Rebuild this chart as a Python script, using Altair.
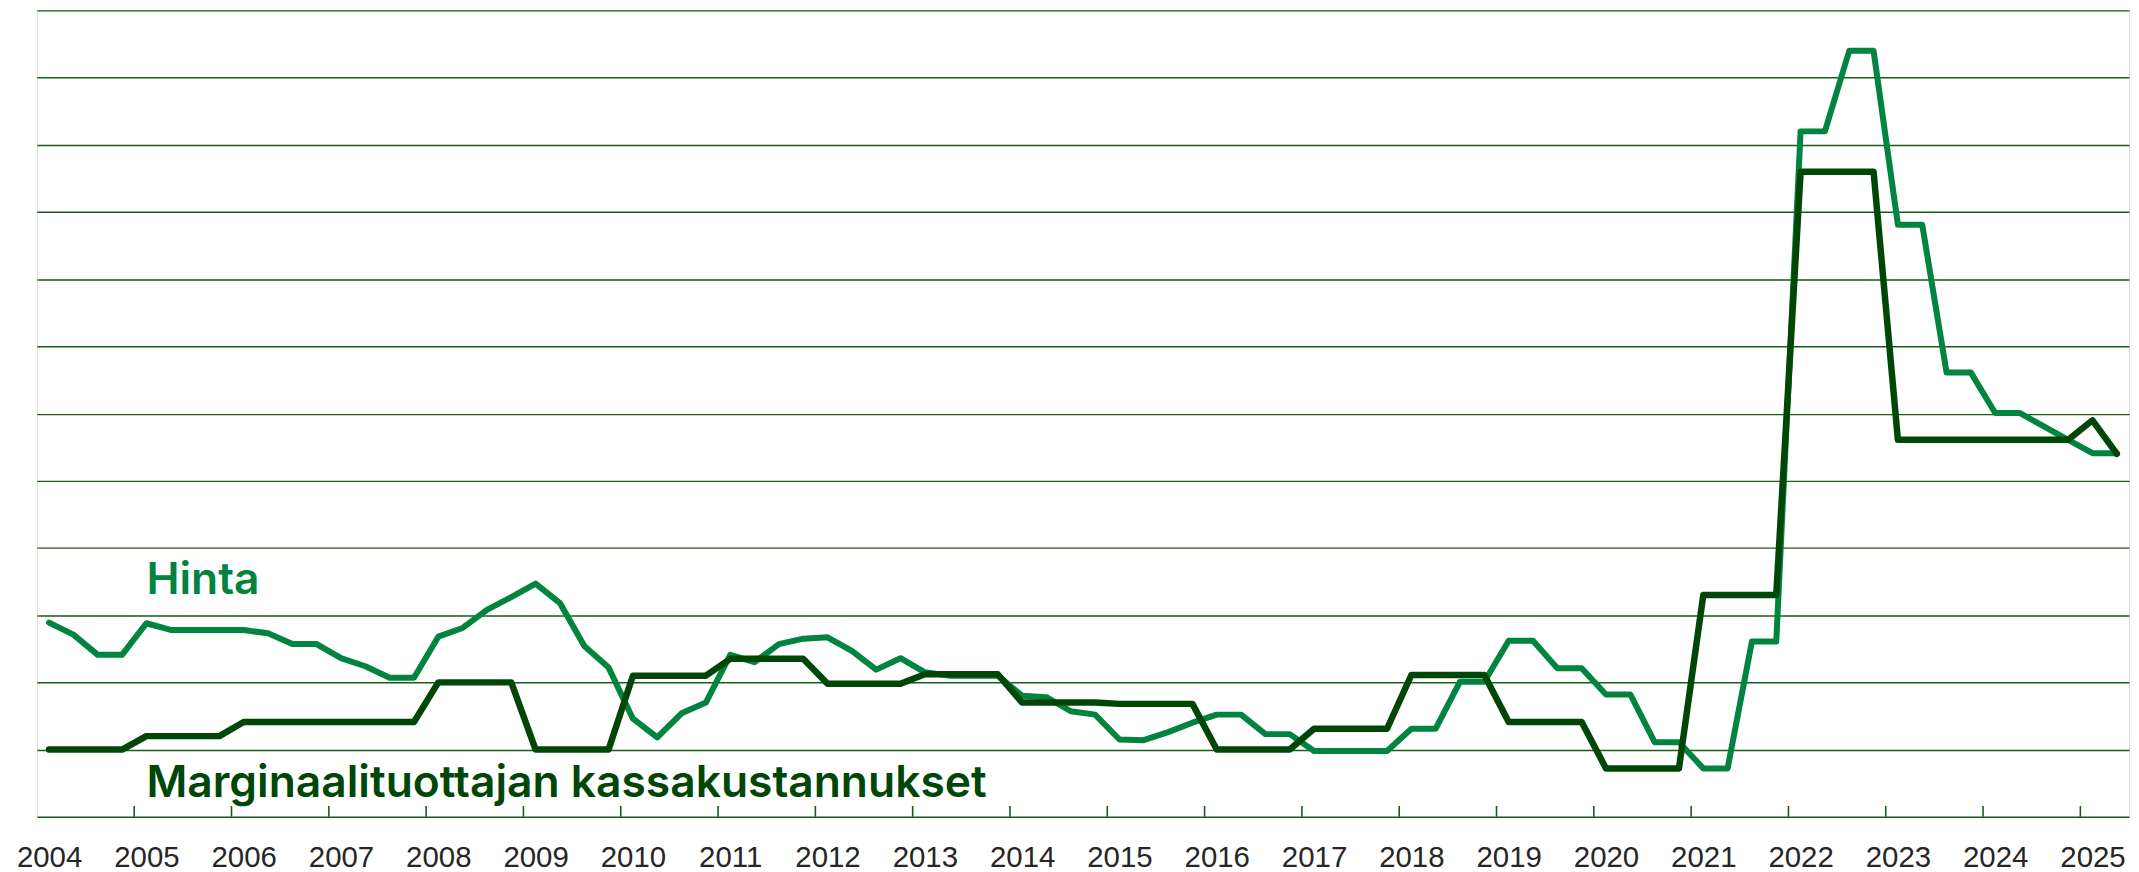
import altair as alt
import pandas as pd

# ---- data (quarterly, 2004Q1 .. 2025Q2; units = gridline steps) ----
years = list(range(2004, 2026))

hinta = [
    2.89, 2.71, 2.41, 2.41,   # 2004
    2.88, 2.78, 2.78, 2.78,   # 2005
    2.78, 2.73, 2.57, 2.57,   # 2006
    2.36, 2.24, 2.07, 2.07,   # 2007
    2.68, 2.81, 3.08, 3.27,   # 2008
    3.47, 3.18, 2.54, 2.22,   # 2009
    1.46, 1.18, 1.54, 1.70,   # 2010
    2.41, 2.30, 2.57, 2.65,   # 2011
    2.67, 2.47, 2.19, 2.36,   # 2012
    2.15, 2.10, 2.10, 2.10,   # 2013
    1.80, 1.78, 1.57, 1.52,   # 2014
    1.15, 1.14, 1.26, 1.40,   # 2015
    1.52, 1.52, 1.23, 1.23,   # 2016
    0.98, 0.98, 0.98, 0.98,   # 2017
    1.31, 1.31, 2.01, 2.01,   # 2018
    2.62, 2.62, 2.21, 2.21,   # 2019
    1.82, 1.82, 1.11, 1.11,   # 2020
    0.72, 0.72, 2.61, 2.61,   # 2021
    10.2, 10.2, 11.4, 11.4,   # 2022
    8.81, 8.81, 6.61, 6.61,   # 2023
    6.01, 6.01, 5.81, 5.61,   # 2024
    5.41, 5.41,               # 2025
]

kustannukset = [
    1.00, 1.00, 1.00, 1.00,
    1.20, 1.20, 1.20, 1.20,
    1.41, 1.41, 1.41, 1.41,
    1.41, 1.41, 1.41, 1.41,
    2.00, 2.00, 2.00, 2.00,
    1.00, 1.00, 1.00, 1.00,
    2.10, 2.10, 2.10, 2.10,
    2.35, 2.35, 2.35, 2.35,
    1.98, 1.98, 1.98, 1.98,
    2.12, 2.12, 2.12, 2.12,
    1.70, 1.70, 1.70, 1.70,
    1.68, 1.68, 1.68, 1.68,
    1.00, 1.00, 1.00, 1.00,
    1.31, 1.31, 1.31, 1.31,
    2.11, 2.11, 2.11, 2.11,
    1.41, 1.41, 1.41, 1.41,
    0.72, 0.72, 0.72, 0.72,
    3.30, 3.30, 3.30, 3.30,
    9.60, 9.60, 9.60, 9.60,
    5.61, 5.61, 5.61, 5.61,
    5.61, 5.61, 5.61, 5.61,
    5.90, 5.40,
]

series_names = ["Hinta", "Marginaalituottajan kassakustannukset"]
label_pos_t = [2005.0, 2005.0]
label_pos_v = [3.32, 0.30]

# ---- build tables ----
n = len(hinta)
t = [2004 + k / 4 for k in range(n)]
df_h = pd.DataFrame({"t": t, "arvo": hinta})
df_k = pd.DataFrame({"t": t, "arvo": kustannukset})
df_ticks = pd.DataFrame({
    "t": [y - 0.125 for y in years[1:]],
    "arvo": [0.0] * (len(years) - 1),
    "arvo2": [0.16] * (len(years) - 1),
})
df_text = pd.DataFrame({"t": label_pos_t, "arvo": label_pos_v, "label": series_names})

C_PRICE = "#00843f"
C_COST = "#004707"
C_GRID = "#1c5a1c"

X = alt.X(
    "t:Q",
    scale=alt.Scale(domain=[2003.875, 2025.375], nice=False, zero=False),
    axis=alt.Axis(
        values=years, format="d", title=None, ticks=False, tickSize=0,
        domain=False, grid=False, labelFont="Liberation Sans", labelFontSize=29.5,
        labelColor="#262626", labelBaseline="alphabetic", labelPadding=50,
        labelFlush=False, labelOverlap=False,
    ),
)
Y = alt.Y(
    "arvo:Q",
    scale=alt.Scale(domain=[0, 12], nice=False, zero=True),
    axis=alt.Axis(
        values=list(range(13)), labels=False, ticks=False, domain=False,
        title=None, grid=True, gridColor=C_GRID, gridWidth=1.4,
    ),
)

ticks = alt.Chart(df_ticks).mark_rule(color=C_GRID, strokeWidth=1.6).encode(
    x=X, y=Y, y2="arvo2:Q"
)
line_h = alt.Chart(df_h).mark_line(
    color=C_PRICE, strokeWidth=6, strokeJoin="round", strokeCap="round"
).encode(x=X, y=Y)
line_k = alt.Chart(df_k).mark_line(
    color=C_COST, strokeWidth=6.5, strokeJoin="round", strokeCap="round"
).encode(x=X, y=Y)
texts = alt.Chart(df_text).mark_text(
    align="left", baseline="alphabetic", font="Inter", fontSize=44.5, fontWeight=600
).encode(
    x=X, y=Y, text="label:N",
    color=alt.Color("label:N", scale=alt.Scale(domain=series_names, range=[C_PRICE, C_COST]), legend=None),
)

chart = alt.layer(ticks, line_h, line_k, texts).properties(
    width=2099, height=809,
    autosize=alt.AutoSizeParams(type="none"),
    padding={"left": 29, "top": 1, "right": 2, "bottom": 60},
).configure_view(stroke="#14521a", strokeWidth=1.5).configure(background="white")

chart.save("out.html", embed_options={"renderer": "svg", "actions": False})
